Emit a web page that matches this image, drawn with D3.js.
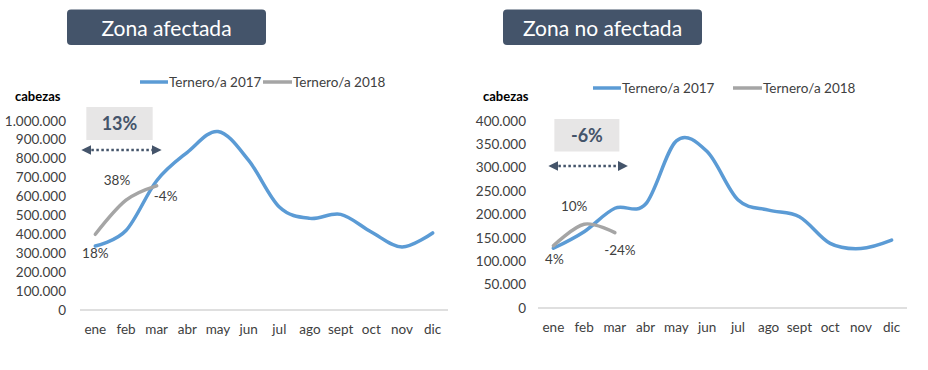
<!DOCTYPE html>
<html><head><meta charset="utf-8">
<script src="https://cdn.jsdelivr.net/npm/d3@7"></script>
<style>
body{margin:0;background:#fff;}
svg{display:block;font-family:Lato, "Open Sans", sans-serif;}
</style></head>
<body><svg id="c" width="928" height="370"></svg>
<script>
const months = ["ene","feb","mar","abr","may","jun","jul","ago","sept","oct","nov","dic"];
const seriesNames = ["Ternero/a 2017","Ternero/a 2018"];
const titles = ["Zona afectada","Zona no afectada"];
const afectada2017 = [338000,420000,683000,833000,943000,790000,544000,484000,505000,412000,333000,407000];
const afectada2018 = [400000,580000,656000];
const noAfectada2017 = [127500,163000,213000,222000,357000,334000,231000,209000,195000,138000,127000,145000];
const noAfectada2018 = [133000,179000,161000];
const afectadaPct = ["18%","38%","-4%"];
const noAfectadaPct = ["4%","10%","-24%"];
const afectadaTotal = "13%";
const noAfectadaTotal = "-6%";
const afectadaTicks = [0,100000,200000,300000,400000,500000,600000,700000,800000,900000,1000000];
const noAfectadaTicks = [0,50000,100000,150000,200000,250000,300000,350000,400000];

const svg = d3.select("#c");
const loc = d3.formatLocale({decimal:",",thousands:".",grouping:[3],currency:["","€"]});
const fmt = loc.format(",d");
const blue="#5B9BD5", gray="#A5A5A5", dark="#44546A", txt="#404040";

const defs = svg.append("defs");
defs.append("marker").attr("id","ah").attr("viewBox","0 0 10 10").attr("refX",5).attr("refY",5)
  .attr("markerWidth",4).attr("markerHeight",4).attr("orient","auto-start-reverse")
  .append("path").attr("d","M0,0L10,5L0,10z").attr("fill",dark);

function panel(cfg){
  const g = svg.append("g");
  g.append("rect").attr("x",cfg.title[0]).attr("y",9.5).attr("width",cfg.title[1]-cfg.title[0]).attr("height",35.5)
    .attr("rx",4).attr("fill",dark);
  g.append("text").attr("x",(cfg.title[0]+cfg.title[1])/2).attr("y",35.5).attr("text-anchor","middle")
    .attr("fill","#fff").attr("font-size",21).attr("font-weight",400).text(cfg.titleText);

  const x = d3.scaleBand().domain(months).range([cfg.x0,cfg.x1]);
  const y = d3.scaleLinear().domain([0,cfg.max]).range([cfg.y0,cfg.y1]);
  const cx = m => x(m)+x.bandwidth()/2;

  g.append("line").attr("x1",cfg.x0).attr("x2",cfg.x1).attr("y1",cfg.y0).attr("y2",cfg.y0)
    .attr("stroke","#BFBFBF").attr("stroke-width",1);
  const ya = g.append("g").attr("transform",`translate(${cfg.yLab},0)`)
    .call(d3.axisLeft(y).tickValues(cfg.ticks).tickFormat(fmt).tickSize(0).tickPadding(0));
  ya.select(".domain").remove();
  ya.selectAll("text").attr("font-family","Lato").attr("font-size",13.5).attr("fill",txt);
  const xa = g.append("g").attr("transform",`translate(0,${cfg.y0})`)
    .call(d3.axisBottom(x).tickSize(0).tickPadding(14));
  xa.select(".domain").remove();
  xa.selectAll("text").attr("font-family","Lato").attr("font-size",13.5).attr("fill",txt);

  g.append("text").attr("x",cfg.cab).attr("y",101).attr("font-size",13).attr("font-weight","bold")
    .attr("fill","#000").text("cabezas");

  const line = d3.line().x((d,i)=>cx(months[i])).y(d=>y(d)).curve(d3.curveCatmullRom.alpha(0));
  g.append("path").datum(cfg.s17).attr("d",line).attr("fill","none").attr("stroke",blue)
    .attr("stroke-width",3.5).attr("stroke-linecap","round");
  g.append("path").datum(cfg.s18).attr("d",line).attr("fill","none").attr("stroke",gray)
    .attr("stroke-width",3.5).attr("stroke-linecap","round");

  const lg = g.append("g").attr("transform",`translate(${cfg.leg},${cfg.legY})`);
  lg.append("line").attr("x1",0).attr("x2",28).attr("stroke",blue).attr("stroke-width",3.5);
  lg.append("text").attr("x",29).attr("y",4.5).attr("font-size",13.5).attr("fill",txt).text(seriesNames[0]);
  lg.append("line").attr("x1",cfg.leg2).attr("x2",cfg.leg2+29).attr("stroke",gray).attr("stroke-width",3.5);
  lg.append("text").attr("x",cfg.leg2+30).attr("y",4.5).attr("font-size",13.5).attr("fill",txt).text(seriesNames[1]);

  cfg.pct.forEach((p,i)=>{
    const o = cfg.pctOff[i];
    g.append("text").attr("x",cx(months[i])+o[0]).attr("y",y(o[2]?cfg.s17[i]:cfg.s18[i])+o[1])
      .attr("font-size",13.5).attr("fill",txt).attr("text-anchor","middle").text(p);
  });

  const bx0 = cx(months[0])+cfg.box[0], bx1 = cx(months[2])+cfg.box[1];
  g.append("rect").attr("x",bx0).attr("y",cfg.box[2]).attr("width",bx1-bx0).attr("height",cfg.box[3])
    .attr("fill","#E7E6E6");
  g.append("text").attr("x",(bx0+bx1)/2).attr("y",cfg.box[2]+cfg.box[3]/2+6.5).attr("text-anchor","middle")
    .attr("font-size",18).attr("font-weight","bold").attr("fill",dark).text(cfg.total);
  g.append("line").attr("x1",cx(months[0])+cfg.arr[0]).attr("x2",cx(months[2])+cfg.arr[1])
    .attr("y1",cfg.arr[2]).attr("y2",cfg.arr[2]).attr("stroke",dark).attr("stroke-width",2.5)
    .attr("stroke-dasharray","2.5,2.5").attr("marker-start","url(#ah)").attr("marker-end","url(#ah)");
}

panel({title:[67,266],titleText:titles[0],x0:80,x1:448,y0:310,y1:120.7,max:1000000,ticks:afectadaTicks,
  yLab:66,cab:15,s17:afectada2017,s18:afectada2018,leg:140,legY:82,leg2:123,
  pct:afectadaPct,pctOff:[[0,12,true],[-9,-15,false],[9,15,false]],
  box:[-9,-4,107,33],arr:[-9,0,150],total:afectadaTotal});
panel({title:[503,702],titleText:titles[1],x0:538,x1:907,y0:308,y1:120.7,max:400000,ticks:noAfectadaTicks,
  yLab:526,cab:483,s17:noAfectada2017,s18:noAfectada2018,leg:593,legY:88,leg2:140,
  pct:noAfectadaPct,pctOff:[[1,16,true],[-10,-13,false],[5,22,false]],
  box:[1,4.5,119,32.5],arr:[0,8,166],total:noAfectadaTotal});
</script></body></html>
